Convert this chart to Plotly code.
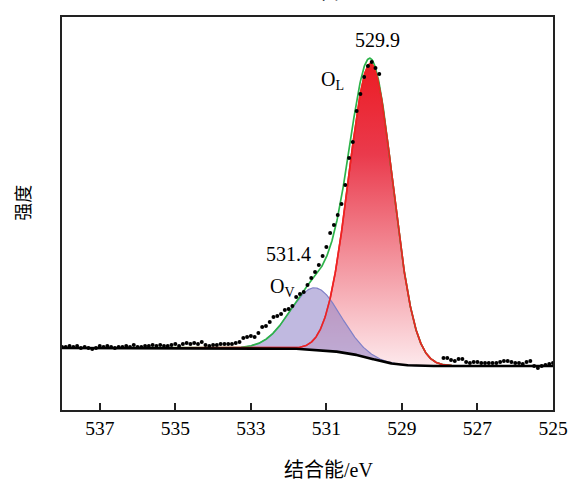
import numpy as np
import plotly.graph_objects as go

# ---------------- data ----------------
# measured spectrum (binding energy grid, eV) and intensity (counts)
be = np.round(np.arange(538.0, 524.95, -0.1), 1)
intensity = [
    6300, 6300, 6400, 6300, 6400, 6200, 6300, 6200, 6100, 6200,
    6400, 6300, 6400, 6300, 6200, 6300, 6300, 6400, 6300, 6500,
    6300, 6300, 6400, 6400, 6500, 6400, 6500, 6400, 6400, 6500,
    6600, 6400, 6600, 6700, 6600, 6700, 6600, 6800, 6500, 6400,
    6500, 6500, 6600, 6600, 6600, 6600, 6700, 6800, 7200, 7300,
    7400, 7300, 7700, 8300, 8400, 8800, 9300, 9400, 9600, 10000,
    10100, 10400, 11300, 11600, 11800, 12500, 13200, 13800, 14500, 15400,
    16300, 17700, 18500, 19500, 20600, 22500, 25200, 26800, 29900, 31600,
    33300, 34400, 34800, 34200, 33600, None, None, None, None, None,
    None, None, None, None, None, None, None, None, None, None,
    None, 5200, 5200, 5000, 4900, 5100, 5100, 4800, 4700, 4800,
    4800, 4700, 4700, 4700, 4700, 4700, 4800, 4900, 4900, 4800,
    4700, 4700, 4600, 4800, 4900, 4400, 4200, 4400, 4500, 4600,
    4700,
]

# fitted components (Gaussian parameters)
peak_names = ["O<sub>L</sub>", "O<sub>V</sub>"]
peak_labels = ["529.9", "531.4"]
peak_centers = [529.82, 531.3]
peak_heights = [29500, 6200]
peak_fwhm = [1.37, 1.55]

# Shirley background end levels
bg_high_be = 6200
bg_low_be = 4400

tick_vals = [537, 535, 533, 531, 529, 527, 525]
x_range = [538, 525]
y_range = [0, 39300]

# ---------------- fit curves ----------------
xf = np.linspace(538, 525, 1301)
comps = [h * np.exp(-4 * np.log(2) * (xf - c) ** 2 / w ** 2)
         for c, h, w in zip(peak_centers, peak_heights, peak_fwhm)]
total = comps[0] + comps[1]
cum = np.cumsum(total[::-1])[::-1]
bg = bg_low_be + (bg_high_be - bg_low_be) * cum / cum.max()

fig = go.Figure()

# O_L component with gradient fill
fig.add_trace(go.Scatter(x=xf, y=bg, mode="lines", line=dict(width=0),
                         showlegend=False, hoverinfo="skip"))
fig.add_trace(go.Scatter(
    x=xf, y=bg + comps[0], mode="lines", fill="tonexty",
    fillgradient=dict(type="vertical",
                      colorscale=[[0, "#fde9ec"], [0.35, "#f3939d"],
                                  [0.7, "#ea3a4c"], [1, "#ec1c24"]]),
    line=dict(color="#ee2222", width=1.6), showlegend=False))

# O_V component
fig.add_trace(go.Scatter(x=xf, y=bg, mode="lines", line=dict(width=0),
                         showlegend=False, hoverinfo="skip"))
fig.add_trace(go.Scatter(
    x=xf, y=bg + comps[1], mode="lines", fill="tonexty",
    fillcolor="rgba(140,128,198,0.55)",
    line=dict(color="#8080c8", width=1.2), showlegend=False))

# envelope
fig.add_trace(go.Scatter(x=xf, y=bg + total, mode="lines",
                         line=dict(color="#2db34a", width=1.7), showlegend=False))
# O_L outline drawn above the envelope
fig.add_trace(go.Scatter(x=xf, y=bg + comps[0], mode="lines",
                         line=dict(color="#ee2222", width=1.6), showlegend=False))
# background
fig.add_trace(go.Scatter(x=xf, y=bg, mode="lines",
                         line=dict(color="black", width=2.6), showlegend=False))
# raw data
fig.add_trace(go.Scatter(x=be, y=intensity, mode="markers",
                         marker=dict(color="black", size=4), showlegend=False))

serif = "Liberation Serif, Times New Roman, Noto Sans CJK SC, serif"

annotations = [
    dict(x=529.66, y=37000, text=peak_labels[0], showarrow=False,
         font=dict(size=20, family=serif, color="black")),
    dict(x=530.85, y=33000, text=peak_names[0], showarrow=False,
         font=dict(size=20, family=serif, color="black")),
    dict(x=532.01, y=15600, text=peak_labels[1], showarrow=False,
         font=dict(size=20, family=serif, color="black")),
    dict(x=532.17, y=12300, text=peak_names[1], showarrow=False,
         font=dict(size=20, family=serif, color="black")),
    dict(x=0.542, y=-0.153, xref="paper", yref="paper", text="结合能/eV",
         showarrow=False, xanchor="center", yanchor="middle",
         font=dict(size=20, family=serif, color="black")),
    dict(x=-0.0815, y=0.527, xref="paper", yref="paper", text="强度",
         textangle=-90, showarrow=False, xanchor="center", yanchor="middle",
         font=dict(size=18, family="Noto Sans CJK SC", color="black")),
    dict(x=0.525, y=1.0254, xref="paper", yref="paper", text="空白",
         showarrow=False, xanchor="center", yanchor="bottom",
         font=dict(size=20, family="Noto Sans CJK SC", color="black")),
]

fig.update_layout(
    width=568, height=484,
    margin=dict(l=62, r=15, t=17, b=74),
    paper_bgcolor="white", plot_bgcolor="white",
    annotations=annotations,
    xaxis=dict(range=x_range, tickvals=tick_vals, ticks="inside", ticklen=7,
               tickwidth=1.5, tickcolor="#222", showline=True, linecolor="#222",
               linewidth=1.8, mirror=True, showgrid=False, zeroline=False,
               automargin=False,
               tickfont=dict(size=19.5, family=serif, color="black")),
    yaxis=dict(range=y_range, showticklabels=False, ticks="", showline=True,
               linecolor="#222", linewidth=1.8, mirror=True, showgrid=False,
               zeroline=False, automargin=False),
)

fig.write_html("out.html",
               config={"displayModeBar": False},
               post_script="document.body.style.margin='0';"
                           "document.body.style.overflow='hidden';")
